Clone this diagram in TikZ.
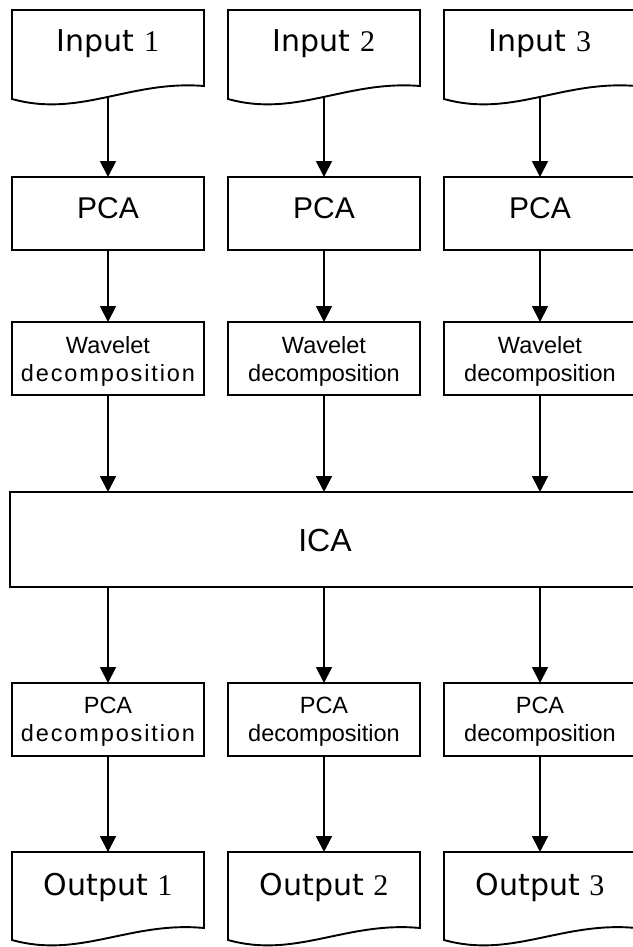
\documentclass[tikz,border=0pt]{standalone}
\usepackage{fontspec}
\setmainfont{Liberation Sans}
\newfontfamily\docfont{DejaVu Sans}
\newfontfamily\numfont{Liberation Serif}
\usetikzlibrary{arrows.meta,calc}
\tikzset{
  lw/.style={line width=1.9pt},
  docbody/.style={minimum width=192pt,minimum height=89pt,inner sep=0pt,outer sep=0pt},
  docline/.style={lw,line join=miter},
  doctext/.style={font=\docfont\fontsize{30}{36}\selectfont,inner sep=0pt,anchor=base},
  procbox/.style={draw,lw,minimum width=192pt,minimum height=73pt,inner sep=0pt,outer sep=0pt},
  bigtext/.style={font=\fontsize{30}{36}\selectfont,inner sep=0pt,anchor=base},
  smalltext/.style={font=\fontsize{23.5}{28}\selectfont,inner sep=0pt,align=center},
  arr/.style={lw,-{Triangle[length=16pt,width=16pt]}},
}
\begin{document}
\begin{tikzpicture}[x=1pt,y=-1pt]
\useasboundingbox (0,0) rectangle (632,947);
% ICA
\node[procbox,minimum width=624pt,minimum height=95pt] (ica) at (322,539.5) {};
\node[bigtext,font=\fontsize{32}{38}\selectfont] (tica) at (325,551.5) {ICA};
\foreach \i/\x/\ls in {1/108/8,2/324/0,3/540/0}{
  % input document
  \node[docbody] (in\i) at (\x,54.5) {};
  \draw[docline] (in\i.south west) -- (in\i.north west) -- (in\i.north east)
    -- ($(in\i.south east)+(0,-13)$)
    .. controls ($(in\i.south west)+(118,-19)$) and ($(in\i.south west)+(68,19)$) .. (in\i.south west) -- cycle;
  \node[doctext] (tin\i) at (\x,52) {Input {\numfont\i}};
  \coordinate (inb\i) at ($(in\i.south)+(0,-2.5)$);
  % PCA
  \node[procbox] (pca\i) at (\x,213.5) {};
  \node[bigtext] (tpca\i) at (\x,218) {PCA};
  % wavelet
  \node[procbox] (wav\i) at (\x,358.5) {};
  \node[smalltext] (twav\i) at (\x,361) {Wavelet\\{\addfontfeature{LetterSpace=\ls}decomposition}};
  % PCA decomposition
  \node[procbox] (pcd\i) at (\x,719.5) {};
  \node[smalltext] (tpcd\i) at (\x,722) {PCA\\{\addfontfeature{LetterSpace=\ls}decomposition}};
  % output document
  \node[docbody,minimum height=88pt] (out\i) at (\x,896) {};
  \draw[docline] (out\i.south west) -- (out\i.north west) -- (out\i.north east)
    -- ($(out\i.south east)+(0,-12)$)
    .. controls ($(out\i.south west)+(118,-19)$) and ($(out\i.south west)+(68,19)$) .. (out\i.south west) -- cycle;
  \node[doctext] (tout\i) at (\x,895) {Output {\numfont\i}};
  % connectors
  \draw[arr] (inb\i) -- (pca\i.north);
  \draw[arr] (pca\i.south) -- (wav\i.north);
  \draw[arr] (wav\i.south) -- (wav\i.south |- ica.north);
  \draw[arr] (pcd\i.north |- ica.south) -- (pcd\i.north);
  \draw[arr] (pcd\i.south) -- (out\i.north);
}
\end{tikzpicture}
\end{document}
